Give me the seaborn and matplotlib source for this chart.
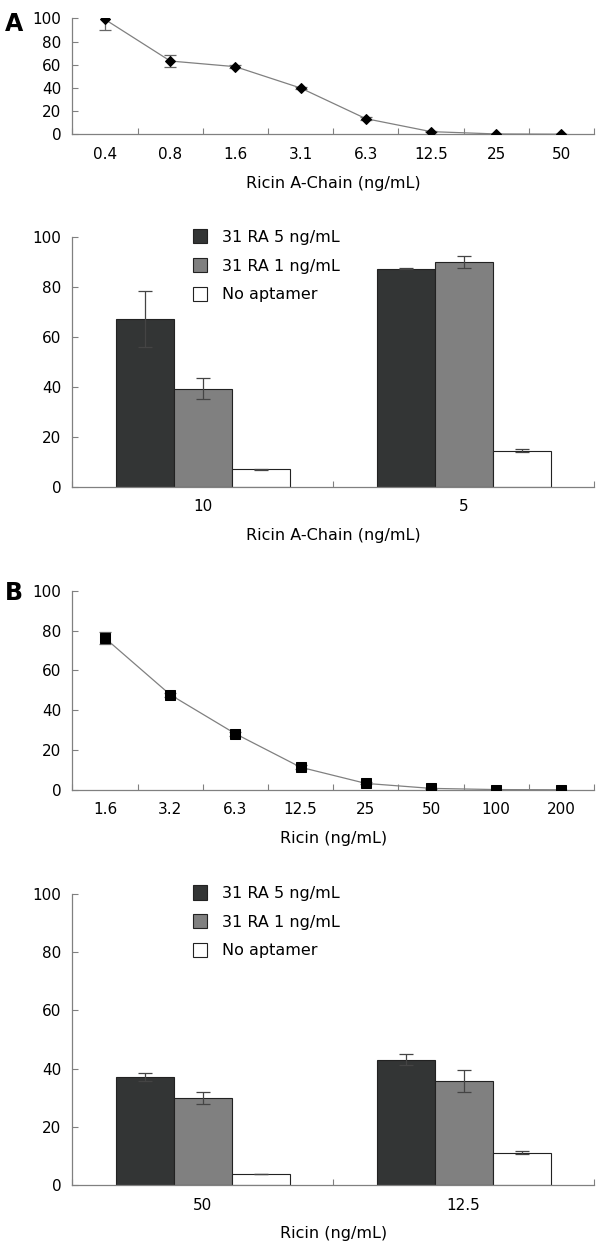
import numpy as np
import pandas as pd
import matplotlib
matplotlib.use("Agg")
import matplotlib.pyplot as plt
import seaborn as sns

sns.set_style("white")
plt.rcParams['font.family'] = ['DejaVu Sans']
plt.rcParams['font.size'] = 11
plt.rcParams['text.color'] = 'black'
plt.rcParams['xtick.color'] = 'black'
plt.rcParams['ytick.color'] = 'black'
plt.rcParams['axes.labelcolor'] = 'black'

# --- dane ---
rac_conc = ["0.4", "0.8", "1.6", "3.1", "6.3", "12.5", "25", "50"]
rac_val = [99.0, 63.2, 58.3, 39.9, 13.5, 2.3, 0.3, 0.1]
rac_err = [8.7, 5.2, 1.5, 1.0, 1.0, 0.5, 0.0, 0.0]

ricin_conc = ["1.6", "3.2", "6.3", "12.5", "25", "50", "100", "200"]
ricin_val = [76.2, 47.8, 28.2, 11.4, 3.3, 0.8, 0.2, 0.1]
ricin_err = [3.0, 1.0, 1.0, 1.0, 0.5, 0.3, 0.0, 0.0]

groups = ["31 RA 5 ng/mL", "31 RA 1 ng/mL", "No aptamer"]

rac_bar_x = ["10", "5"]
rac_bar_val = {"31 RA 5 ng/mL": [67.1, 87.2],
               "31 RA 1 ng/mL": [39.2, 90.0],
               "No aptamer": [6.9, 14.4]}
rac_bar_err = {"31 RA 5 ng/mL": [11.3, 0.2],
               "31 RA 1 ng/mL": [4.3, 2.4],
               "No aptamer": [0.3, 0.6]}

ricin_bar_x = ["50", "12.5"]
ricin_bar_val = {"31 RA 5 ng/mL": [37.2, 43.0],
                 "31 RA 1 ng/mL": [29.8, 35.7],
                 "No aptamer": [3.8, 11.1]}
ricin_bar_err = {"31 RA 5 ng/mL": [1.4, 1.9],
                 "31 RA 1 ng/mL": [2.0, 3.7],
                 "No aptamer": [0.0, 0.5]}

bar_colors = ["#333535", "#808080", "#ffffff"]
axis_col = "#808080"
TICK_FS = 11
LABEL_FS = 11.5


def style_axes(ax, n):
    for s in ["top", "right"]:
        ax.spines[s].set_visible(False)
    for s in ["left", "bottom"]:
        ax.spines[s].set_color(axis_col)
        ax.spines[s].set_linewidth(0.9)
    ax.set_xlim(-0.5, n - 0.5)
    ax.set_ylim(0, 100)
    ax.set_yticks([0, 20, 40, 60, 80, 100])
    ax.tick_params(axis="y", direction="in", length=4, color=axis_col, pad=8,
                   labelsize=TICK_FS, left=True)
    # podzialki miedzy kategoriami, etykiety na srodku
    ax.set_xticks(np.arange(n + 1) - 0.5)
    ax.set_xticklabels([])
    ax.tick_params(axis="x", which="major", direction="in", length=4,
                   color=axis_col, bottom=True)
    ax.set_ylabel("")


def cat_labels(ax, cats, xlabel):
    ax.set_xticks(np.arange(len(cats)), minor=True)
    ax.set_xticklabels(cats, minor=True)
    ax.tick_params(axis="x", which="minor", length=0, pad=9, labelsize=TICK_FS)
    ax.set_xlabel(xlabel, fontsize=LABEL_FS, labelpad=10)


def line_panel(ax, cats, vals, errs, marker, msize, xlabel):
    df = pd.DataFrame({"c": cats, "v": vals})
    sns.lineplot(data=df, x="c", y="v", ax=ax, sort=False, color="#808080",
                 linewidth=0.9, marker=marker, markersize=msize,
                 markerfacecolor="black", markeredgecolor="black", zorder=3)
    ax.errorbar(np.arange(len(cats)), vals, yerr=errs, fmt="none",
                ecolor="#666666", elinewidth=0.9, capsize=4, capthick=0.9,
                zorder=2)
    style_axes(ax, len(cats))
    cat_labels(ax, cats, xlabel)


def bar_panel(ax, cats, vals, errs, xlabel):
    rows = []
    for g in groups:
        for c, v in zip(cats, vals[g]):
            rows.append({"c": c, "g": g, "v": v})
    df = pd.DataFrame(rows)
    sns.barplot(data=df, x="c", y="v", hue="g", hue_order=groups, order=cats,
                palette=bar_colors, width=0.667, errorbar=None, ax=ax,
                edgecolor="#222222", linewidth=0.8, saturation=1)
    # slupki bledow na srodkach prostokatow
    for g, cont in zip(groups, ax.containers):
        xs = [p.get_x() + p.get_width() / 2 for p in cont.patches]
        ax.errorbar(xs, vals[g], yerr=errs[g], fmt="none", ecolor="#444444",
                    elinewidth=0.9, capsize=5, capthick=0.9, zorder=3)
    style_axes(ax, len(cats))
    cat_labels(ax, cats, xlabel)
    leg = ax.legend(loc="upper left", bbox_to_anchor=(0.231, 1.03),
                    frameon=False, fontsize=LABEL_FS, handlelength=0.9,
                    handleheight=1.0, handletextpad=0.9, labelspacing=0.82,
                    borderpad=0, borderaxespad=0)
    for h in leg.legend_handles:
        h.set_edgecolor("#222222")


fig = plt.figure(figsize=(6.01, 12.47), dpi=100)
L, W = 0.1206, 0.8677
ax1 = fig.add_axes([L, 0.8923, W, 0.0930])
ax2 = fig.add_axes([L, 0.6097, W, 0.2005])
ax3 = fig.add_axes([L, 0.3665, W, 0.1598])
ax4 = fig.add_axes([L, 0.0497, W, 0.2334])

line_panel(ax1, rac_conc, rac_val, rac_err, "D", 5, "Ricin A-Chain (ng/mL)")
bar_panel(ax2, rac_bar_x, rac_bar_val, rac_bar_err, "Ricin A-Chain (ng/mL)")
line_panel(ax3, ricin_conc, ricin_val, ricin_err, "s", 7.5, "Ricin (ng/mL)")
bar_panel(ax4, ricin_bar_x, ricin_bar_val, ricin_bar_err, "Ricin (ng/mL)")

fig.text(14 / 601, 1 - 24 / 1247, "A", fontsize=17, fontweight="bold",
         ha="center", va="center")
fig.text(14 / 601, 1 - 593 / 1247, "B", fontsize=17, fontweight="bold",
         ha="center", va="center")

fig.savefig("out.png", dpi=100)
